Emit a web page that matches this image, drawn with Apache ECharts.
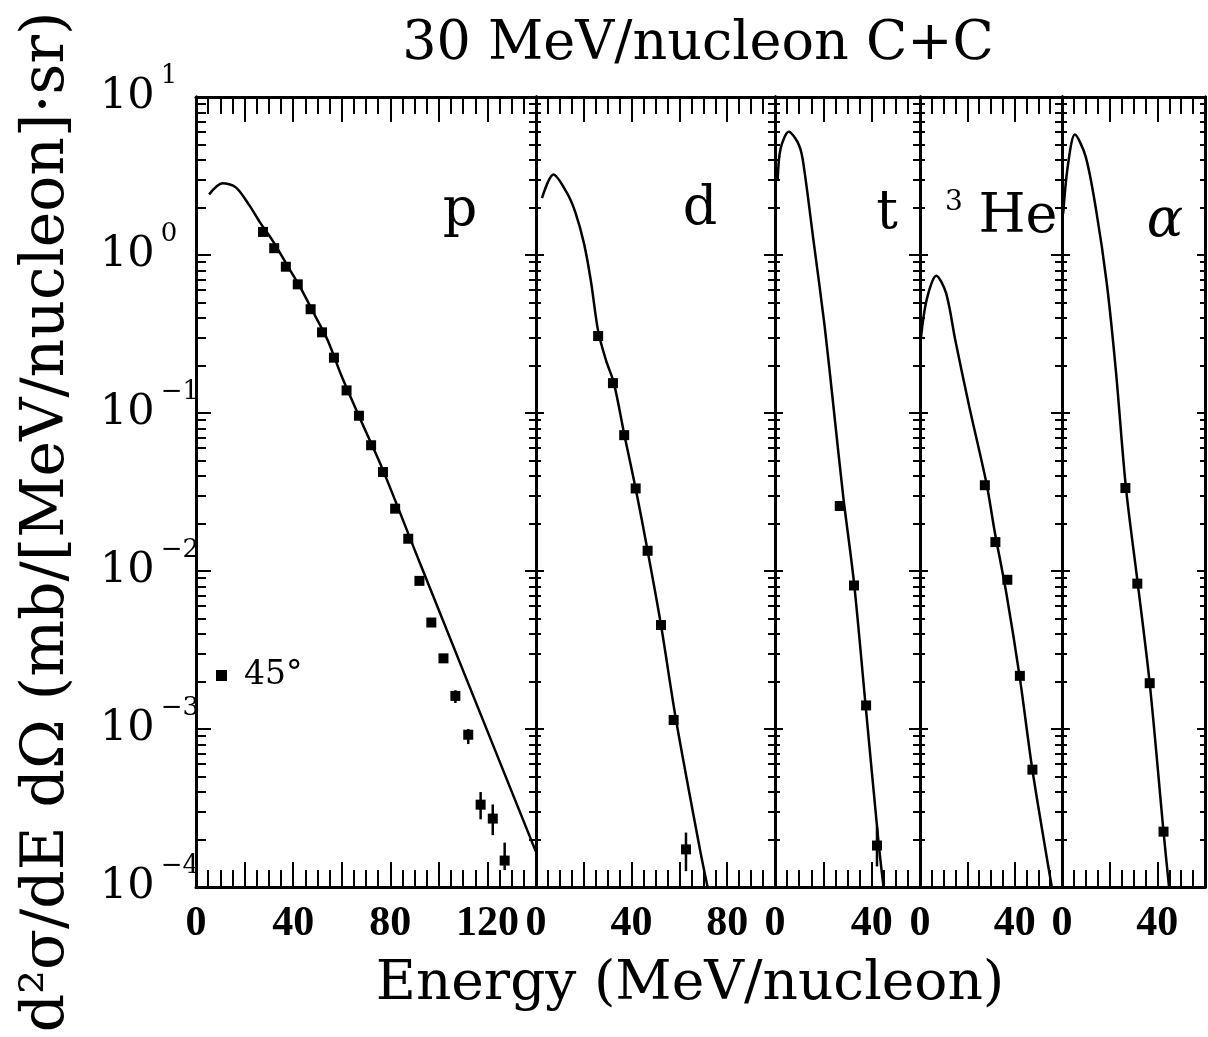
<!DOCTYPE html>
<html><head><meta charset="utf-8">
<script src="https://cdn.jsdelivr.net/npm/echarts@6/dist/echarts.min.js"></script>
<style>html,body{margin:0;padding:0;background:#fff}#c{width:1208px;height:1037px}</style>
</head><body><div id="c"></div>
<script>
// ---------- data ----------
const panelNames = ['p', 'd', 't', '3He', 'alpha'];
const xMax = [140, 100, 60, 60, 60];
const yMajorTicks = [1e-4, 1e-3, 1e-2, 1e-1, 1, 10];
const xLabelValues = [0, 40, 80, 120];

// protons
const pE = [27.6, 32.2, 37.0, 41.9, 47.2, 51.9, 56.8, 62.0, 67.1, 72.1, 77.0, 82.0, 87.4, 92.0, 96.9, 101.9, 106.8, 112.1, 117.2, 122.2, 127.1];
const pV = [1.40, 1.104, 0.843, 0.652, 0.454, 0.324, 0.224, 0.139, 0.0961, 0.0625, 0.0423, 0.0248, 0.0160, 0.00866, 0.00472, 0.0028, 0.00162, 0.00092, 0.000332, 0.000271, 0.000147];
const pErrE = [106.8, 112.1, 117.2, 122.2, 127.1];
const pErrLo = [0.00146, 0.000803, 0.000268, 0.000213, 0.000128];
const pErrHi = [0.00176, 0.00100, 0.000399, 0.000333, 0.000191];
const pFitE = [5.4, 10.9, 16.4, 22.0, 26.2, 31.8, 37.4, 43.0, 48.7, 54.3, 59.9, 68.0, 76.9, 92.4, 139.9];
const pFitV = [2.42, 2.85, 2.68, 2.06, 1.62, 1.216, 0.869, 0.621, 0.422, 0.287, 0.172, 0.089, 0.0438, 0.01103, 0.000168];

// deuterons
const dE = [26.0, 32.2, 36.9, 41.7, 46.7, 52.3, 57.6, 62.75];
const dV = [0.307, 0.1545, 0.0724, 0.0333, 0.01343, 0.00455, 0.00114, 0.000173];
const dErrE = [62.75];
const dErrLo = [0.000126];
const dErrHi = [0.000221];
const dFitE = [2.5, 7.3, 12.9, 16.5, 20.1, 23.0, 26.0, 29.3, 32.6, 37.0, 41.7, 46.7, 52.3, 58.6, 68.6, 71.8];
const dFitV = [2.29, 3.23, 2.48, 1.856, 1.18, 0.68, 0.33, 0.215, 0.1545, 0.0724, 0.0333, 0.01343, 0.00455, 0.00114, 0.000173, 0.0001];

// tritons
const tE = [26.8, 32.7, 37.7, 42.2];
const tV = [0.0258, 0.0081, 0.00141, 0.000183];
const tErrE = [42.2];
const tErrLo = [0.000135];
const tErrHi = [0.00024];
const tFitE = [1.1, 2.3, 5.7, 9.3, 11.4, 16.0, 20.5, 24.3, 28.2, 32.7, 37.4, 42.9, 44.9];
const tFitV = [2.96, 4.7, 6.03, 5.2, 4.09, 1.21, 0.359, 0.106, 0.0299, 0.0084, 0.00146, 0.000188, 0.0001];

// 3He
const heE = [27.4, 31.85, 36.9, 42.2, 47.5];
const heV = [0.0349, 0.01524, 0.0088, 0.00217, 0.000553];
const heErrE = [];
const heErrLo = [];
const heErrHi = [];
const heFitE = [0.3, 2.8, 6.9, 11.0, 14.9, 20.8, 28.1, 31.5, 36.5, 42.2, 47.5, 55.7];
const heFitV = [0.29, 0.52, 0.74, 0.575, 0.29, 0.11, 0.0358, 0.018, 0.0072, 0.0021, 0.00055, 0.0001];

// alpha
const aE = [26.6, 31.6, 36.8, 42.6];
const aV = [0.0335, 0.00832, 0.00195, 0.000224];
const aErrE = [];
const aErrLo = [];
const aErrHi = [];
const aFitE = [0.5, 2.4, 5.4, 9.9, 14.3, 18.8, 22.6, 26.8, 31.8, 36.8, 42.6, 44.9];
const aFitV = [1.83, 3.62, 5.78, 4.21, 1.93, 0.66, 0.1855, 0.034, 0.0083, 0.00195, 0.000224, 0.0001];

// ---------- build ----------
const panels = [
  {E: pE, V: pV, eE: pErrE, eL: pErrLo, eH: pErrHi, fE: pFitE, fV: pFitV},
  {E: dE, V: dV, eE: dErrE, eL: dErrLo, eH: dErrHi, fE: dFitE, fV: dFitV},
  {E: tE, V: tV, eE: tErrE, eL: tErrLo, eH: tErrHi, fE: tFitE, fV: tFitV},
  {E: heE, V: heV, eE: heErrE, eL: heErrLo, eH: heErrHi, fE: heFitE, fV: heFitV},
  {E: aE, V: aV, eE: aErrE, eL: aErrLo, eH: aErrHi, fE: aFitE, fV: aFitV}
];

const yMinorTicks = [];
for (let n = -4; n <= 0; n++) for (let k = 2; k <= 9; k++) yMinorTicks.push(+(k * Math.pow(10, n)).toPrecision(3));

const gridLeft = [196, 536, 775, 920, 1062];
const gridWidth = [340, 239, 145, 142, 143];
const gridTop = 97, gridHeight = 790;
const BLACK = '#000';

const grids = [], xAxes = [], yAxes = [], series = [];

function xAxisDef(i, pos) {
  return {
    type: 'value', gridIndex: i, position: pos, min: 0, max: xMax[i], interval: 20,
    axisLine: {show: true, onZero: false, lineStyle: {color: BLACK, width: 3}},
    axisTick: {show: true, inside: true, length: 25, lineStyle: {color: BLACK, width: 2}},
    minorTick: {show: true, splitNumber: 4, length: 17, lineStyle: {color: BLACK, width: 2}},
    splitLine: {show: false}, minorSplitLine: {show: false},
    axisLabel: pos === 'bottom' ? {
      show: true, customValues: xLabelValues.filter(v => v <= xMax[i]), margin: 16,
      color: BLACK, fontFamily: 'Liberation Serif', fontWeight: 'bold', fontSize: 42
    } : {show: false}
  };
}

function yAxisDef(i, pos, major, len, label) {
  return {
    type: 'log', logBase: 10, gridIndex: i, position: pos, min: 1e-4, max: 10,
    axisLine: {show: true, lineStyle: {color: BLACK, width: 3}},
    axisTick: {show: true, inside: true, length: len, customValues: major ? yMajorTicks : yMinorTicks,
               lineStyle: {color: BLACK, width: 2}},
    splitLine: {show: false},
    axisLabel: label ? {
      show: true, customValues: yMajorTicks, align: 'left', margin: 96,
      formatter: v => {
        const e = Math.round(Math.log10(v));
        return '{b|10}{s|' + (e < 0 ? '\u2212' + (-e) : String(e)) + '}';
      },
      rich: {
        b: {fontFamily: 'DejaVu Serif', fontSize: 43, lineHeight: 68, color: BLACK},
        s: {fontFamily: 'DejaVu Serif', fontSize: 26, lineHeight: 26, color: BLACK, verticalAlign: 'top', padding: [0, 0, 0, 6]}
      }
    } : {show: false}
  };
}

panels.forEach((pn, i) => {
  grids.push({left: gridLeft[i], top: gridTop, width: gridWidth[i], height: gridHeight, containLabel: false});
  xAxes.push(xAxisDef(i, 'bottom'));
  xAxes.push(xAxisDef(i, 'top'));
  const first = i === 0, last = i === panels.length - 1;
  yAxes.push(yAxisDef(i, 'left', true, first ? 15 : 8, first));
  yAxes.push(yAxisDef(i, 'left', false, first ? 10 : 5, false));
  yAxes.push(yAxisDef(i, 'right', true, last ? 8 : 11, false));
  yAxes.push(yAxisDef(i, 'right', false, last ? 5 : 7, false));
  const xi = 2 * i, yi = 4 * i;
  series.push({
    type: 'line', xAxisIndex: xi, yAxisIndex: yi, name: 'fit',
    data: pn.fE.map((e, k) => [e, pn.fV[k]]),
    showSymbol: false, smooth: 0.3, clip: true,
    lineStyle: {color: BLACK, width: 2.5}, silent: true, z: 3
  });
  series.push({
    type: 'scatter', xAxisIndex: xi, yAxisIndex: yi, name: '45°',
    data: pn.E.map((e, k) => [e, pn.V[k]]),
    symbol: 'rect', symbolSize: 10, itemStyle: {color: BLACK, opacity: 1}, z: 4
  });
  if (pn.eE.length) {
    series.push({
      type: 'custom', xAxisIndex: xi, yAxisIndex: yi, name: 'err',
      data: pn.eE.map((e, k) => [e, pn.eL[k], pn.eH[k]]),
      renderItem: (params, api) => {
        const a = api.coord([api.value(0), api.value(1)]);
        const b = api.coord([api.value(0), api.value(2)]);
        return {type: 'line', shape: {x1: a[0], y1: a[1], x2: b[0], y2: b[1]},
                style: {stroke: BLACK, lineWidth: 2.5}};
      },
      z: 4, silent: true
    });
  }
});

const serif = '"DejaVu Serif", serif';
function txt(x, y, text, size, extra) {
  return {
    type: 'text', x: x, y: y, silent: true,
    style: Object.assign({text: text, font: size + 'px ' + serif, fill: BLACK,
      textAlign: 'center', textVerticalAlign: 'middle', align: 'center', verticalAlign: 'middle'}, extra || {})
  };
}

const yName = txt(0, 0, 'd\u00b2\u03c3/dE d\u03a9 (mb/[MeV/nucleon]\u00b7sr)', 60);
yName.x = 47; yName.y = 522; yName.rotation = Math.PI / 2;

const option = {
  backgroundColor: '#fff',
  animation: false,
  grid: grids, xAxis: xAxes, yAxis: yAxes, series: series,
  legend: {
    data: ['45°'], left: 216, top: 659, padding: 0, itemWidth: 11, itemHeight: 11,
    icon: 'rect', selectedMode: false,
    textStyle: {fontFamily: 'DejaVu Serif', fontSize: 33, color: BLACK, padding: [0, 0, 0, 12]}
  },
  graphic: [
    txt(698, 45, '30 MeV/nucleon C+C', 54),
    txt(690, 985, 'Energy (MeV/nucleon)', 55),
    yName,
    txt(460, 212, 'p', 54),
    txt(700, 210, 'd', 54),
    txt(887, 214, 't', 54),
    txt(954, 203, '3', 28),
    txt(1018, 218, 'He', 54),
    txt(1165, 222, '\u03b1', 54, {font: 'italic 54px ' + serif})
  ]
};

const chart = echarts.init(document.getElementById('c'), null, {renderer: 'canvas'});
chart.setOption(option);
</script>
</body></html>
